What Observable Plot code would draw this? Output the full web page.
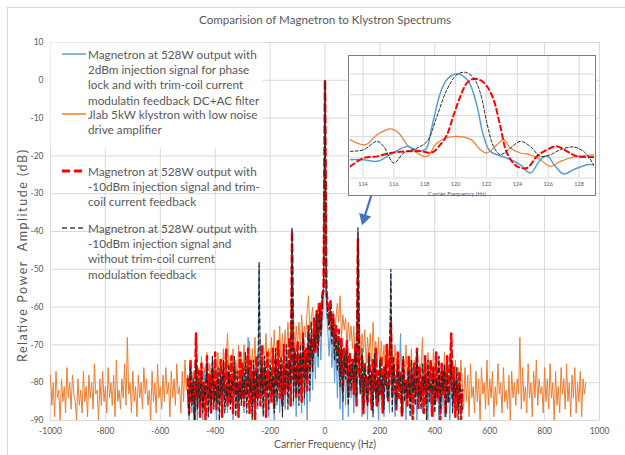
<!DOCTYPE html>
<html><head><meta charset="utf-8">
<script src="https://cdn.jsdelivr.net/npm/d3@7"></script>
<script src="https://cdn.jsdelivr.net/npm/@observablehq/plot@0.6"></script>
<style>
html,body{margin:0;padding:0;background:#fff;}
#wrap{position:relative;width:625px;height:455px;overflow:hidden;font-family:Lato,"Open Sans",sans-serif;}
#wrap > svg, #wrap > div{position:absolute;left:0;top:0;}
</style></head><body><div id="wrap"></div>
<script>
// ---------- data ----------
const STEP = 5;               // frequency bin spacing (Hz)
const ORANGE_START = -1000;   // first bin of klystron trace
const MAG_START = -500;       // first bin of magnetron traces

const seriesNames = [
  ["Magnetron at 528W output with","2dBm injection signal for phase","lock and with trim-coil current","modulatin feedback DC+AC filter"],
  ["Jlab 5kW klystron with low noise","drive amplifier"],
  ["Magnetron at 528W output with","-10dBm injection signal and trim-","coil current feedback"],
  ["Magnetron at 528W output with","-10dBm injection signal and","without trim-coil current","modulation feedback"]
];

const orangeDb = [
-78,-86,-80,-89,-77,-84,-82,-90,-79,-85,
-81,-88,-76,-84,-80,-87,-78,-83,-85,-90,
-79,-86,-82,-88,-77,-85,-81,-89,-78,-84,
-80,-87,-75,-83,-82,-90,-79,-86,-77,-85,
-81,-88,-76,-84,-80,-86,-78,-89,-74,-85,
-82,-87,-79,-84,-75,-86,-68,-83,-80,-88,
-77,-85,-81,-89,-78,-84,-80,-87,-76,-83,
-79,-86,-82,-90,-77,-85,-80,-88,-75,-84,
-81,-87,-78,-85,-76,-83,-80,-89,-77,-84,
-79,-86,-75,-83,-81,-88,-77,-85,-74,-82,
-78,
-83,-75,-85,-77,-82,-74,-86,-76,-81,-73,
-84,-76,-80,-72,-85,-75,-79,-73,-83,-74,
-81,-72,-84,-75,-78,-71,-82,-74,-67,-79,
-73,-82,-71,-80,-74,-79,-70,-83,-72,-78,
-70,-81,-73,-77,-69,-80,-71,-78,-68,-79,
-72,-76,-68,-79,-70,-75,-67,-78,-71,-74,
-68,-77,-66,-75,-69,-73,-65,-76,-67,-72,
-66,-74,-64,-72,-67,-71,-63,-73,-65,-70,
-64,-71,-62,-69,-65,-68,-61,-57,-66,-63,
-60,-68,-62,-66,-59,-64,-61,-58,-55,
0,
-56,-59,-62,-60,-65,-61,-67,-63,-59,
-64,-57,-68,-62,-66,-63,-70,-64,-69,-65,
-71,-65,-73,-66,-70,-64,-74,-67,-72,-66,
-75,-68,-73,-67,-76,-64,-72,-69,-76,-68,
-77,-69,-75,-70,-79,-71,-76,-68,-78,-72,
-79,-70,-77,-72,-80,-71,-78,-73,-81,-70,
-80,-73,-78,-71,-82,-74,-79,-72,-83,-75,
-77,-68,-80,-73,-84,-72,-79,-74,-82,-71,
-81,-74,-85,-73,-80,-75,-83,-72,-79,-76,
-84,-73,-82,-75,-86,-74,-81,-76,-85,-74,
-80,-87,-76,-85,-78,-89,-75,-84,-81,-88,
-77,-85,-79,-90,-76,-83,-80,-87,-74,-86,
-79,-84,-77,-89,-81,-86,-75,-83,-80,-88,
-76,-85,-82,-87,-78,-90,-77,-84,-80,-86,
-79,-83,-68,-87,-76,-85,-81,-88,-75,-84,
-80,-89,-77,-84,-74,-86,-79,-83,-81,-88,
-76,-85,-79,-87,-75,-84,-80,-90,-77,-86,
-81,-88,-76,-83,-79,-87,-75,-85,-80,-89,
-78,-84,-76,-88,-80,-85,-77,-89,-79,-83,
-80];

const blueDb = [
-84,-90,-80,-88,-78,-89,-82,-90,-79,-87,
-81,-90,-77,-86,-83,-89,-79,-88,-76,-85,
-82,-90,-78,-87,-80,-89,-75,-86,-81,-88,
-77,-85,-83,-90,-76,-87,-80,-89,-78,-84,
-81,-88,-75,-86,-68,-84,-79,-89,-77,-85,
-80,-87,-49,-85,-78,-88,-74,-86,-81,-89,
-76,-84,-79,-90,-73,-86,-77,-88,-75,-83,
-78,-87,-72,-85,-76,-84,-39,-86,-74,-89,
-73,-84,-77,-88,-70,-86,-74,-90,-72,-85,
-70,-82,-68,-79,-66,-76,-64,-74,-62,-60,
0,
-61,-66,-73,-65,-76,-68,-80,-70,-84,-72,
-87,-74,-90,-71,-86,-76,-89,-73,-84,-78,
-88,-75,-86,-40,-83,-77,-89,-74,-85,-79,
-90,-76,-84,-78,-88,-73,-86,-79,-90,-75,
-85,-80,-89,-77,-84,-81,-88,-51,-86,-79,
-89,-78,-85,-80,-67,-83,-88,-79,-90,-77,
-84,-81,-89,-76,-86,-80,-90,-78,-85,-82,
-88,-77,-84,-81,-90,-79,-86,-83,-89,-78,
-85,-80,-90,-77,-87,-82,-89,-79,-84,-81,
-90,-78,-86,-83,-89,-80,-87,-84,-90,-82];

const redDb = [
-79,-88,-74,-85,-81,-90,-67,-84,-77,-89,
-75,-86,-80,-90,-73,-84,-78,-88,-76,-85,
-72,-87,-79,-84,-74,-89,-77,-83,-71,-86,
-78,-85,-73,-88,-76,-82,-80,-89,-72,-84,
-75,-86,-79,-83,-71,-88,-74,-85,-77,-90,
-73,-84,-78,-86,-70,-82,-76,-89,-72,-81,
-77,-85,-71,-87,-74,-80,-69,-84,-76,-86,
-70,-83,-75,-81,-68,-86,-40,-79,-72,-84,
-69,-80,-73,-85,-67,-78,-71,-82,-65,-76,
-68,-74,-63,-72,-61,-69,-59,-66,-57,-55,
0,
-55,-60,-64,-58,-67,-62,-70,-65,-73,-66,
-78,-68,-82,-71,-76,-69,-84,-72,-79,-74,
-83,-70,-86,-42,-77,-81,-73,-88,-75,-80,
-85,-72,-79,-87,-74,-82,-71,-86,-77,-83,
-73,-88,-76,-81,-70,-85,-78,-64,-84,-75,
-80,-87,-72,-84,-77,-89,-74,-82,-79,-86,
-73,-85,-78,-90,-75,-83,-71,-87,-76,-84,
-79,-88,-73,-85,-77,-82,-74,-89,-76,-86,
-72,-84,-79,-90,-75,-83,-77,-88,-73,-85,
-78,-67,-84,-76,-89,-80,-86,-77,-90,-82];

const blackDb = [
-82,-89,-76,-86,-79,-90,-74,-87,-80,-85,
-77,-88,-81,-84,-75,-89,-79,-86,-73,-87,
-80,-85,-76,-90,-78,-83,-74,-88,-81,-84,
-75,-87,-79,-82,-73,-89,-77,-85,-80,-86,
-78,-84,-72,-88,-76,-83,-79,-90,-74,-85,
-77,-86,-48,-83,-75,-89,-73,-82,-78,-87,
-74,-83,-78,-88,-71,-85,-76,-81,-73,-89,
-76,-82,-70,-87,-74,-80,-39,-85,-71,-83,
-72,-86,-70,-81,-68,-84,-73,-79,-66,-82,
-64,-77,-67,-71,-62,-73,-60,-68,-58,-56,
0,
-57,-62,-66,-60,-70,-63,-74,-67,-77,-69,
-81,-70,-85,-73,-79,-71,-86,-74,-82,-75,
-80,-72,-84,-39,-78,-83,-71,-87,-76,-81,
-86,-73,-82,-77,-89,-72,-84,-79,-85,-74,
-83,-78,-87,-75,-81,-84,-76,-50,-88,-73,
-82,-86,-75,-81,-78,-88,-73,-85,-80,-84,
-77,-89,-74,-83,-79,-86,-72,-84,-81,-87,
-75,-82,-78,-90,-74,-85,-80,-83,-76,-88,
-79,-84,-73,-87,-77,-82,-75,-89,-78,-85,
-81,-74,-88,-79,-84,-76,-90,-80,-83,-87];

// inset (zoom on the 120 Hz sideband)
const insetBlueF  = [113.18,114.0,114.91,115.77,116.85,117.39,118.04,118.47,119.01,119.44,119.98,120.52,120.95,121.39,121.82,122.25,123.33,124.19,124.84,125.49,125.92,126.46,127.0,127.65,128.51,129.05];
const insetBlueDb = [-81.2,-81.2,-82.0,-78.8,-74.8,-76.4,-76.4,-65.2,-49.1,-42.7,-40.0,-41.1,-45.1,-55.5,-70.0,-77.2,-80.4,-83.6,-87.6,-81.2,-79.3,-84.4,-88.1,-86.0,-83.6,-83.6];
const insetOrangeF  = [113.18,114.15,114.91,115.77,116.31,116.85,117.50,118.15,118.79,119.66,120.95,121.60,122.03,122.68,123.11,123.55,124.19,124.84,125.49,126.14,126.79,127.65,129.05];
const insetOrangeDb = [-71.6,-74.0,-69.2,-66.4,-68.4,-74.0,-78.0,-79.6,-73.2,-70.3,-71.3,-76.4,-78.0,-74.0,-71.6,-75.6,-78.0,-78.8,-81.2,-84.4,-82.0,-79.9,-78.8];
const insetRedF  = [113.18,114.04,114.91,115.77,116.85,117.71,118.47,119.01,119.44,119.88,120.31,120.74,121.17,121.60,122.03,122.46,122.90,123.33,123.98,124.62,125.27,125.92,126.57,127.22,127.87,129.05];
const insetRedDb = [-84.4,-80.4,-79.6,-78.0,-77.2,-77.2,-77.7,-74.0,-69.2,-59.6,-50.7,-44.3,-42.4,-43.0,-45.9,-52.3,-65.2,-78.0,-84.4,-85.2,-79.6,-76.4,-74.8,-77.2,-79.6,-79.9];
const insetBlackF  = [113.18,114.04,114.91,115.34,115.99,116.64,117.50,118.15,118.79,119.44,120.09,120.63,121.17,121.60,122.03,122.46,122.90,123.55,124.19,124.84,125.49,126.14,126.79,127.65,128.41,129.05];
const insetBlackDb = [-77.2,-76.4,-72.4,-74.8,-82.8,-78.0,-75.6,-72.4,-60.4,-47.5,-40.3,-39.2,-41.9,-49.1,-63.6,-74.8,-78.8,-75.6,-72.4,-74.8,-79.6,-78.8,-76.4,-75.1,-78.0,-85.2];

const xTicks = [-1000,-800,-600,-400,-200,0,200,400,600,800,1000];
const yTicks = [10,0,-10,-20,-30,-40,-50,-60,-70,-80,-90];
const insetXTicks = [114,116,118,120,122,124,126,128];
const insetYGrid = [-90,-80,-70,-60,-50,-40];

// arrow annotation (data units) pointing from inset to the 120 Hz sideband
const arrowF  = [193.8, 142.5];
const arrowDb = [-24.7, -36.5];

// ---------- build ----------
const COL = {blue:"#5b9bd5", orange:"#ed7d31", red:"#ff0000", black:"#262626", grid:"#d9d9d9", text:"#595959", arrow:"#4472c4"};
const toRows = (arr, start) => arr.map((v,i)=>({f:start + i*STEP, db:v}));
const zipRows = (fs, dbs) => fs.map((f,i)=>({f, db:dbs[i]}));

const wrap = document.getElementById("wrap");

const main = Plot.plot({
  width:625, height:455,
  marginLeft:50, marginRight:26, marginTop:42, marginBottom:35,
  style:{background:"transparent", fontFamily:"Lato, sans-serif", fontSize:"8.5px", color:COL.text},
  x:{domain:[-1000,1000], ticks:xTicks, tickFormat:d=>String(d), tickSize:0, tickPadding:7, label:null},
  y:{domain:[-90,10], ticks:yTicks, tickFormat:d=>String(d), tickSize:0, tickPadding:7, label:null},
  marks:[
    Plot.ruleX(xTicks, {stroke:COL.grid, strokeWidth:1}),
    Plot.ruleY(yTicks, {stroke:COL.grid, strokeWidth:1}),
    Plot.line(toRows(orangeDb, ORANGE_START), {x:"f", y:"db", stroke:COL.orange, strokeWidth:1, clip:true}),
    Plot.line(toRows(blueDb, MAG_START), {x:"f", y:"db", stroke:COL.blue, strokeWidth:1, clip:true}),
    Plot.line(toRows(redDb, MAG_START), {x:"f", y:"db", stroke:COL.red, strokeWidth:2.5, strokeDasharray:"7,4", clip:true}),
    Plot.line(toRows(blackDb, MAG_START), {x:"f", y:"db", stroke:COL.black, strokeWidth:1.2, strokeDasharray:"4,3", clip:true}),
    Plot.link([0], {x1:()=>arrowF[0], y1:()=>arrowDb[0], x2:()=>arrowF[1], y2:()=>arrowDb[1], stroke:COL.arrow, strokeWidth:2.2}),
    Plot.dot([0], {x:()=>arrowF[1], y:()=>arrowDb[1], symbol:"triangle2", r:6, fill:COL.arrow, stroke:"none", rotate:196.5})
  ]
});
wrap.appendChild(main);

// inset
const insetDiv = document.createElement("div");
insetDiv.style.cssText = "left:348px;top:55px;width:246px;height:139px;border:1.5px solid #7f7f7f;background:#fff;";
const inset = Plot.plot({
  width:246, height:139,
  marginLeft:1, marginRight:1, marginTop:0, marginBottom:17.5,
  style:{background:"#fff", fontFamily:"Lato, sans-serif", fontSize:"5.5px", color:COL.text},
  x:{domain:[113.19,129.0], ticks:insetXTicks, tickFormat:d=>String(d), tickSize:0, tickPadding:4, label:null},
  y:{domain:[-90,-31.6], axis:null},
  marks:[
    Plot.ruleX(insetXTicks, {stroke:COL.grid}),
    Plot.ruleY(insetYGrid, {stroke:COL.grid}),
    Plot.line(zipRows(insetOrangeF, insetOrangeDb), {x:"f", y:"db", stroke:COL.orange, strokeWidth:1.2, curve:"catmull-rom", clip:true}),
    Plot.line(zipRows(insetBlueF, insetBlueDb), {x:"f", y:"db", stroke:COL.blue, strokeWidth:1.5, curve:"catmull-rom", clip:true}),
    Plot.line(zipRows(insetRedF, insetRedDb), {x:"f", y:"db", stroke:COL.red, strokeWidth:2, strokeDasharray:"5,3.5", curve:"catmull-rom", clip:true}),
    Plot.line(zipRows(insetBlackF, insetBlackDb), {x:"f", y:"db", stroke:COL.black, strokeWidth:1, strokeDasharray:"3,2", curve:"catmull-rom", clip:true})
  ]
});
insetDiv.appendChild(inset);
wrap.appendChild(insetDiv);

// overlay: titles, legend, frame
const ov = d3.select(wrap).append("svg").attr("width",625).attr("height",455)
  .style("pointer-events","none").style("font-family","Lato, sans-serif");
ov.append("rect").attr("x",7.5).attr("y",7.5).attr("width",700).attr("height",600)
  .attr("fill","none").attr("stroke",COL.grid);
function label(txt, x, y, size, len, rot, adjust){
  const t = ov.append("text").attr("x",x).attr("y",y).attr("text-anchor","middle")
    .attr("dominant-baseline","central").attr("fill",COL.text).style("font-size",size+"px")
    .style("white-space","pre").text(txt);
  if (len) t.attr("textLength",len).attr("lengthAdjust",adjust || "spacingAndGlyphs");
  if (rot) t.attr("transform",`rotate(${rot},${x},${y})`);
  return t;
}
label("Comparision of Magnetron to Klystron Spectrums", 325, 19, 12, 252);
label("Carrier Frequency (Hz)", 325, 443, 11, 102);
label("Relative Power  Amplitude (dB)", 22, 256, 12.5, 212, -90, "spacing");
label("Carrier Frequency (Hz)", 457, 193, 6, 58);

// legend
ov.append("rect").attr("x",50.5).attr("y",42.5).attr("width",212).attr("height",106).attr("fill","#fff");
const legendY = [54, 114, 171, 228];
const legendStyle = [
  {c:COL.blue, w:1.5, d:null},
  {c:COL.orange, w:1.5, d:null},
  {c:COL.red, w:3, d:"8,4"},
  {c:"#404040", w:1.4, d:"5,3"}
];
// size font so the first legend line is ~169px wide
const probe = ov.append("text").style("font-size","12px").text(seriesNames[0][0]);
const fs = 12 * 169 / probe.node().getComputedTextLength();
probe.remove();
seriesNames.forEach((lines, k) => {
  const y0 = legendY[k], s = legendStyle[k];
  const ln = ov.append("line").attr("x1",62).attr("x2",86).attr("y1",y0).attr("y2",y0)
    .attr("stroke",s.c).attr("stroke-width",s.w);
  if (s.d) ln.attr("stroke-dasharray",s.d);
  lines.forEach((t,j) => {
    ov.append("text").attr("x",88).attr("y",y0 + j*15.4).attr("dominant-baseline","central")
      .attr("fill",COL.text).style("font-size",fs+"px").text(t);
  });
});
</script></body></html>
